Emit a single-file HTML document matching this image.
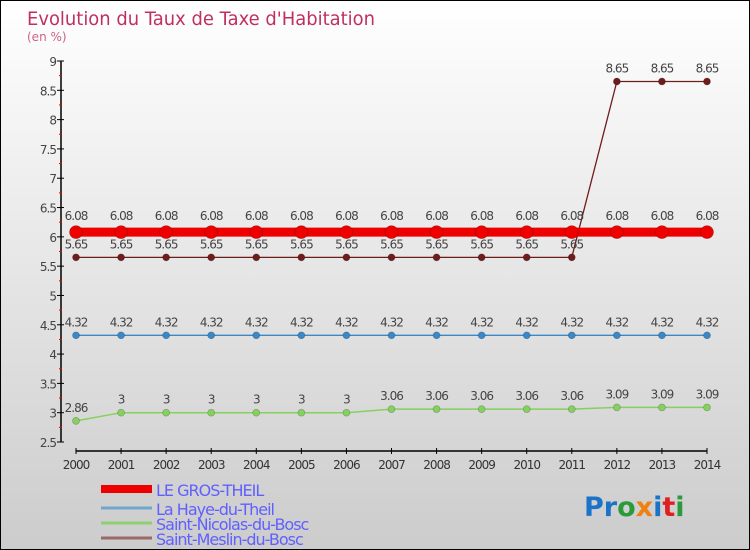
<!DOCTYPE html>
<html><head><meta charset="utf-8"><style>
body{margin:0;}
#wrap{width:750px;height:550px;position:relative;box-sizing:border-box;border:1px solid #000;background:linear-gradient(#fff,#ccc);overflow:hidden;font-family:"DejaVu Sans","Liberation Sans",sans-serif;}
svg text{font-family:"DejaVu Sans","Liberation Sans",sans-serif;}
</style></head><body>
<div id="wrap">
<svg id="chart" width="750" height="550">
<text x="26" y="24" font-size="19" fill="#c0305f" textLength="348" lengthAdjust="spacingAndGlyphs">Evolution du Taux de Taxe d'Habitation</text>
<text x="26" y="40" font-size="12" fill="#d0608a">(en %)</text>
<text x="583" y="515" font-size="27" font-weight="bold"><tspan fill="#1a73c8">Pr</tspan><tspan fill="#2a9a3a">o</tspan><tspan fill="#f08010">x</tspan><tspan fill="#1a73c8">i</tspan><tspan fill="#e02020">t</tspan><tspan fill="#2a9a3a">i</tspan></text>
</svg>
</div>
<script>
const years=[2000,2001,2002,2003,2004,2005,2006,2007,2008,2009,2010,2011,2012,2013,2014];
const yTicks=[2.5,3,3.5,4,4.5,5,5.5,6,6.5,7,7.5,8,8.5,9];
const seriesNames=["LE GROS-THEIL","La Haye-du-Theil","Saint-Nicolas-du-Bosc","Saint-Meslin-du-Bosc"];
const grosTheil=[6.08,6.08,6.08,6.08,6.08,6.08,6.08,6.08,6.08,6.08,6.08,6.08,6.08,6.08,6.08];
const hayeTheil=[4.32,4.32,4.32,4.32,4.32,4.32,4.32,4.32,4.32,4.32,4.32,4.32,4.32,4.32,4.32];
const stNicolas=[2.86,3,3,3,3,3,3,3.06,3.06,3.06,3.06,3.06,3.09,3.09,3.09];
const stMeslin=[5.65,5.65,5.65,5.65,5.65,5.65,5.65,5.65,5.65,5.65,5.65,5.65,8.65,8.65,8.65];

const svg=document.getElementById('chart');
const NS='http://www.w3.org/2000/svg';
const x0=75,x1=706,yTop=60,yBot=441,vMin=2.5,vMax=9;
function xs(i){return x0+(x1-x0)*i/(years.length-1);}
function ys(v){return yBot-(v-vMin)/(vMax-vMin)*(yBot-yTop);}
function mk(tag,attrs){const e=document.createElementNS(NS,tag);for(const k in attrs)e.setAttribute(k,attrs[k]);svg.appendChild(e);return e;}

// axes
let ax=mk('line',{x1:60,y1:yTop,x2:60,y2:yBot,stroke:'#000','stroke-width':1.5});


let bx=mk('line',{x1:x0,y1:450,x2:x1,y2:450,stroke:'#000','stroke-width':1.5});


yTicks.forEach(v=>{
  const y=ys(v);
  mk('line',{x1:56,y1:y,x2:63,y2:y,stroke:'#000','stroke-width':1});
  const t=mk('text',{x:55,y:y+5,'font-size':12,fill:'#444','text-anchor':'end','letter-spacing':'-1'});
  t.textContent=String(v);
  
  
  if(v<vMax){mk('line',{x1:58,y1:ys(v+0.25),x2:61,y2:ys(v+0.25),stroke:'#e00','stroke-width':1});}
});
years.forEach((yr,i)=>{
  const x=xs(i);
  mk('line',{x1:x,y1:447,x2:x,y2:453,stroke:'#000','stroke-width':1});
  const t=mk('text',{x:x,y:468,'font-size':12,fill:'#333','text-anchor':'middle','letter-spacing':'-1'});
  t.textContent=yr;
  
  
});

function drawSeries(vals,color,lw,r,name,labelDy){
  const pts=vals.map((v,i)=>xs(i)+','+ys(v)).join(' ');
  const pl=mk('polyline',{points:pts,fill:'none',stroke:color,'stroke-width':lw});
  
  
  vals.forEach((v,i)=>{
    const c=mk('circle',{cx:xs(i),cy:ys(v),r:r,fill:color.dot||color,stroke:'rgba(0,0,0,0.25)','stroke-width':0.7});
    
    
    const t=mk('text',{x:xs(i),y:ys(v)+labelDy,'font-size':12,fill:'#444','text-anchor':'middle','letter-spacing':'-1'});
    t.textContent=String(v);
    
    
  });
}
drawSeries(stMeslin,'#6e1c1c',1.3,3.5,'saint-meslin',-9);
drawSeries(hayeTheil,'#3a88c8',1.3,3.5,'la-haye',-9);
drawSeries(stNicolas,'#86d060',1.5,3.5,'saint-nicolas',-9);
drawSeries(grosTheil,'#ee0000',9,6.5,'le-gros-theil',-12);

// legend
const legColors=['#ee0000','#6fa8cc','#8ed070','#9a6a6a'];
const legW=[8,3,3,3];
const legY=[488,507,522,537];
seriesNames.forEach((n,i)=>{
  const l=mk('line',{x1:100,y1:legY[i],x2:151,y2:legY[i],stroke:legColors[i],'stroke-width':legW[i]});
  
  
  const t=mk('text',{x:155,y:legY[i]+7,'font-size':16,fill:'#6060ff','letter-spacing':'-1'});
  t.textContent=n;
  
  
});
</script>
</body></html>
